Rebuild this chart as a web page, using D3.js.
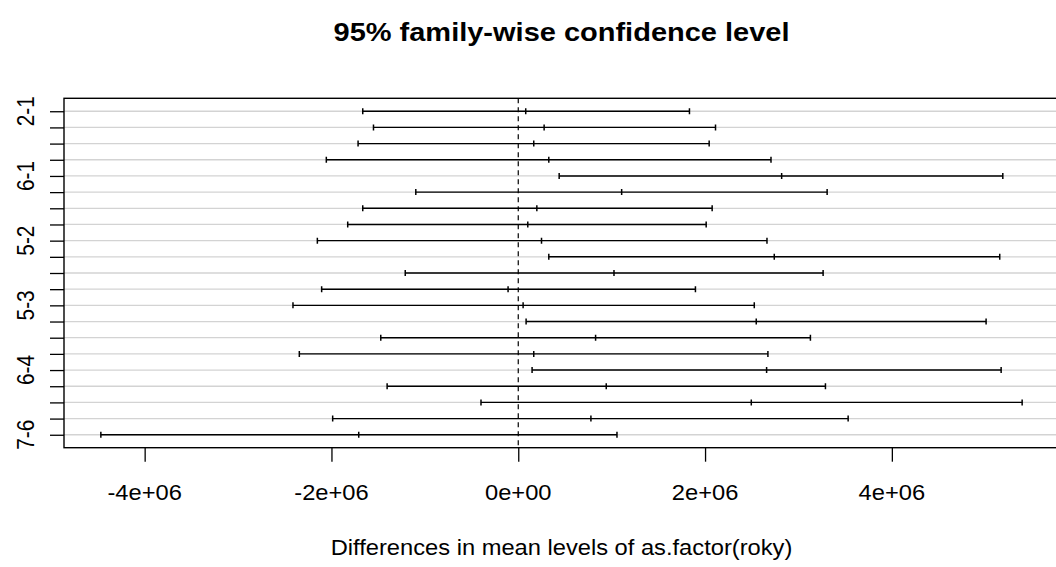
<!DOCTYPE html>
<html>
<head>
<meta charset="utf-8">
<script src="https://cdn.jsdelivr.net/npm/d3@7/dist/d3.min.js"></script>
<style>
  html, body { margin: 0; padding: 0; background: #fff; }
  svg { display: block; font-family: "Liberation Sans", Arial, sans-serif; }
</style>
</head>
<body>
<svg id="chart" width="1056" height="567"></svg>
<script>
// Pairwise comparisons of group means (Tukey HSD), top to bottom
const comparisons = ["2-1","3-1","4-1","5-1","6-1","7-1","3-2","4-2","5-2","6-2","7-2",
                     "4-3","5-3","6-3","7-3","5-4","6-4","7-4","6-5","7-5","7-6"];
// Estimated difference in means
const diffs = [ 0.080e6, 0.277e6, 0.166e6, 0.327e6, 2.820e6, 1.107e6, 0.199e6, 0.102e6, 0.249e6, 2.741e6, 1.025e6,
               -0.109e6, 0.052e6, 2.548e6, 0.828e6, 0.166e6, 2.659e6, 0.942e6, 2.495e6, 0.778e6, -1.708e6];
// Lower bounds of the 95% family-wise intervals
const lowers = [-1.665e6, -1.550e6, -1.715e6, -2.055e6, 0.438e6, -1.097e6, -1.665e6, -1.826e6, -2.151e6, 0.327e6, -1.210e6,
                -2.105e6, -2.412e6, 0.084e6, -1.472e6, -2.344e6, 0.148e6, -1.404e6, -0.399e6, -1.987e6, -4.469e6];
// Upper bounds of the 95% family-wise intervals
const uppers = [ 1.833e6, 2.112e6, 2.044e6, 2.706e6, 5.188e6, 3.307e6, 2.076e6, 2.012e6, 2.663e6, 5.155e6, 3.264e6,
                 1.897e6, 2.527e6, 5.009e6, 3.128e6, 2.673e6, 5.170e6, 3.289e6, 5.395e6, 3.532e6, 1.057e6];
const xTicks = [-4e6, -2e6, 0, 2e6, 4e6];
const xTickLabels = ["-4e+06", "-2e+06", "0e+00", "2e+06", "4e+06"];

const titleText = "95% family-wise confidence level";
const xTitleText = "Differences in mean levels of as.factor(roky)";

const rows = comparisons.map((c, i) => ({
  name: c, pos: comparisons.length - i, diff: diffs[i], lwr: lowers[i], upr: uppers[i]
}));

const svg = d3.select("#chart");
const plot = { left: 64, right: 1059, top: 98.3, bottom: 447.7 };
const axisFont = 23.7;
const squash = 0.9;   // text is slightly flattened vertically

// Extend data range by 4% on each side, as base graphics does
const xmin = d3.min(lowers), xmax = d3.max(uppers);
const xpad = (xmax - xmin) * 0.04;
const x = d3.scaleLinear().domain([xmin - xpad, xmax + xpad]).range([plot.left, plot.right]);
const n = comparisons.length;
const ypad = (n - 1) * 0.04;
const y = d3.scaleLinear().domain([1 - ypad, n + ypad]).range([plot.bottom, plot.top]);

svg.append("clipPath").attr("id", "plotclip")
  .append("rect").attr("x", plot.left).attr("y", plot.top)
  .attr("width", plot.right - plot.left).attr("height", plot.bottom - plot.top);

const g = svg.append("g").attr("clip-path", "url(#plotclip)");

// Light horizontal reference lines at each comparison
g.selectAll("line.grid").data(rows).join("line")
  .attr("class", "grid")
  .attr("x1", plot.left).attr("x2", plot.right)
  .attr("y1", d => y(d.pos)).attr("y2", d => y(d.pos))
  .attr("stroke", "#d3d3d3").attr("stroke-width", 1.3);

// Dashed zero line
g.append("line")
  .attr("x1", x(0)).attr("x2", x(0))
  .attr("y1", plot.top).attr("y2", plot.bottom)
  .attr("stroke", "#000").attr("stroke-width", 1.2)
  .attr("stroke-dasharray", "5,4");

// Interval segments
g.selectAll("line.ci").data(rows).join("line")
  .attr("class", "ci")
  .attr("x1", d => x(d.lwr)).attr("x2", d => x(d.upr))
  .attr("y1", d => y(d.pos)).attr("y2", d => y(d.pos))
  .attr("stroke", "#000").attr("stroke-width", 1.4);

// "|" marks at lower bound, estimate, and upper bound
const marks = rows.flatMap(d => [
  { v: d.lwr, pos: d.pos }, { v: d.diff, pos: d.pos }, { v: d.upr, pos: d.pos }
]);
g.selectAll("line.mark").data(marks).join("line")
  .attr("class", "mark")
  .attr("x1", d => x(d.v)).attr("x2", d => x(d.v))
  .attr("y1", d => y(d.pos) - 3).attr("y2", d => y(d.pos) + 3)
  .attr("stroke", "#000").attr("stroke-width", 1.5);

// Plot box
svg.append("rect")
  .attr("x", plot.left).attr("y", plot.top)
  .attr("width", plot.right - plot.left).attr("height", plot.bottom - plot.top)
  .attr("fill", "none").attr("stroke", "#000").attr("stroke-width", 1.4);

// Bottom axis ticks
const xAxis = d3.axisBottom(x)
  .tickValues(xTicks)
  .tickFormat(() => "")
  .tickSize(14).tickSizeOuter(0);
const xg = svg.append("g").attr("transform", `translate(0,${plot.bottom})`).call(xAxis);
xg.select(".domain").remove();
xg.selectAll(".tick line").attr("stroke", "#000").attr("stroke-width", 1.3);

// Bottom tick labels
svg.append("g").selectAll("text.xlab")
  .data(xTicks)
  .join("text")
  .attr("class", "xlab")
  .attr("transform", d => `translate(${x(d)},500) scale(1,${squash})`)
  .attr("text-anchor", "middle")
  .attr("font-size", axisFont)
  .attr("fill", "#000")
  .text((d, i) => xTickLabels[i]);

// Left axis: every row ticked, labels thinned to avoid overlap
const yAxis = d3.axisLeft(y)
  .tickValues(rows.map(d => d.pos))
  .tickFormat(() => "")
  .tickSize(14).tickSizeOuter(0);
const yg = svg.append("g").attr("transform", `translate(${plot.left},0)`).call(yAxis);
yg.select(".domain").remove();
yg.selectAll(".tick line").attr("stroke", "#000").attr("stroke-width", 1.3);

svg.append("g").selectAll("text.ylab")
  .data(rows.filter((d, i) => i % 4 === 0))
  .join("text")
  .attr("class", "ylab")
  .attr("transform", d => `translate(34,${y(d.pos)}) rotate(-90) scale(0.88,1)`)
  .attr("text-anchor", "middle")
  .attr("font-size", axisFont)
  .attr("fill", "#000")
  .text(d => d.name);

// Title
svg.append("text")
  .attr("transform", `translate(${(plot.left + plot.right) / 2},41) scale(1,${squash})`)
  .attr("text-anchor", "middle")
  .attr("font-size", 29).attr("font-weight", "bold")
  .attr("fill", "#000")
  .text(titleText);

// X-axis title
svg.append("text")
  .attr("transform", `translate(${(plot.left + plot.right) / 2},555) scale(1,${squash})`)
  .attr("text-anchor", "middle")
  .attr("font-size", axisFont)
  .attr("fill", "#000")
  .text(xTitleText);
</script>
</body>
</html>
